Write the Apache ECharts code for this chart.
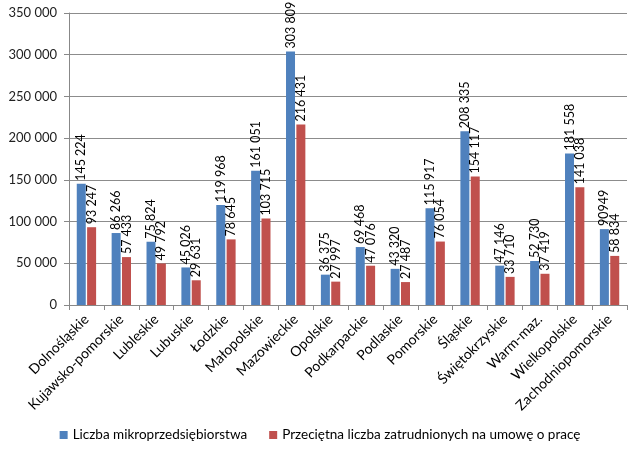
<!DOCTYPE html>
<html><head><meta charset="utf-8">
<script src="https://cdn.jsdelivr.net/npm/echarts@6/dist/echarts.min.js"></script>
<style>html,body{margin:0;padding:0;background:#fff}#c{width:640px;height:460px}</style>
</head><body><div id="c"></div>
<script>
var categories = ["Dolnośląskie","Kujawsko-pomorskie","Lubleskie","Lubuskie","Łodzkie","Małopolskie","Mazowieckie","Opolskie","Podkarpackie","Podlaskie","Pomorskie","Śląskie","Świętokrzyskie","Warm-maz.","Wielkopolskie","Zachodniopomorskie"];
var seriesNames = ["Liczba mikroprzedsiębiorstwa","Przeciętna liczba zatrudnionych na umowę o pracę"];
var microValues = [145224,86266,75824,45026,119968,161051,303809,36375,69468,43320,115917,208335,47146,52730,181558,90949];
var employedValues = [93247,57433,49792,29631,78645,103715,216431,27997,47076,27487,76054,154117,33710,37419,141038,58834];
var microLabels = ["145 224","86 266","75 824","45 026","119 968","161 051","303 809","36 375","69 468","43 320","115 917","208 335","47 146","52 730","181 558","90949"];
var employedLabels = ["93 247","57 433","49 792","29 631","78 645","103 715","216 431","27 997","47 076","27 487","76 054","154 117","33 710","37 419","141 038","58 834"];
var yTicks = ["0","50 000","100 000","150 000","200 000","250 000","300 000","350 000"];

var FONT = "Lato";
var chart = echarts.init(document.getElementById('c'));
function lbl(arr){
  return {show:true, position:'top', rotate:90, align:'left', verticalAlign:'middle', distance:3,
    fontFamily:FONT, fontSize:12.5, color:'#000',
    formatter:function(p){return arr[p.dataIndex];}};
}
chart.setOption({
  animation:false,
  textStyle:{fontFamily:FONT},
  grid:{left:69, right:13, top:13, bottom:155, containLabel:false},
  legend:{bottom:13, left:'center', itemWidth:8, itemHeight:8, itemGap:22, icon:'rect',
    textStyle:{fontFamily:FONT, fontSize:13.5, color:'#000'},
    data:seriesNames},
  xAxis:{type:'category', data:categories,
    axisLine:{lineStyle:{color:'#888'}},
    axisTick:{show:true, length:5, lineStyle:{color:'#888'}},
    axisLabel:{rotate:45, interval:0, fontFamily:FONT, fontSize:14, color:'#000', margin:12}},
  yAxis:{type:'value', min:0, max:350000, interval:50000,
    axisLine:{show:true, lineStyle:{color:'#888'}},
    axisTick:{show:true, length:5, lineStyle:{color:'#888'}},
    splitLine:{lineStyle:{color:'#8c8c8c'}},
    axisLabel:{fontFamily:FONT, fontSize:13, color:'#222', margin:12,
      formatter:function(v){return yTicks[Math.round(v/50000)];}}},
  series:[
    {name:seriesNames[0], type:'bar', data:microValues, barWidth:9, barGap:'15%',
     itemStyle:{color:'#4F81BD'}, label:lbl(microLabels)},
    {name:seriesNames[1], type:'bar', data:employedValues, barWidth:9,
     itemStyle:{color:'#C0504D'}, label:lbl(employedLabels)}
  ]
});
</script></body></html>
